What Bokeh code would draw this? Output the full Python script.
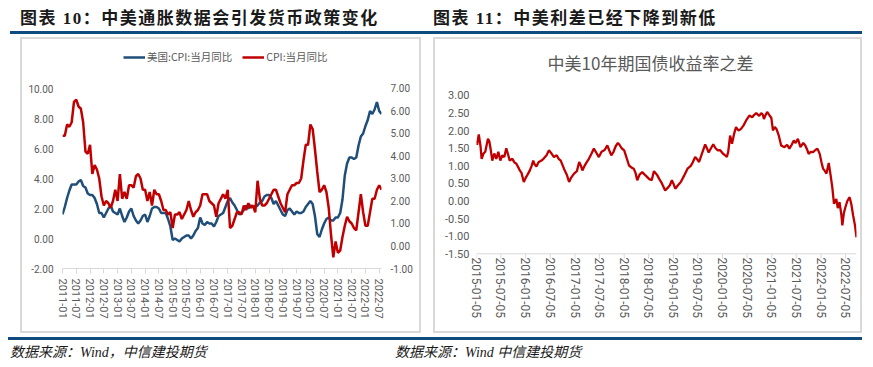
import pandas as pd
from bokeh.plotting import figure
from bokeh.models import (Range1d, LinearAxis, FixedTicker, NumeralTickFormatter,
                          DatetimeTickFormatter, Legend, LegendItem, Div, Spacer, Label)
from bokeh.layouts import column, row
from bokeh.embed import file_html
from bokeh.resources import INLINE

# ---------------- data: left chart (monthly, 2011-01 .. 2022-08) ----------------
start_year = 2011
us_cpi = [1.6, 2.1, 2.7, 3.2, 3.6, 3.6, 3.6, 3.8, 3.9, 3.5, 3.4, 3.0,
          2.9, 2.9, 2.7, 2.3, 1.7, 1.7, 1.4, 1.7, 2.0, 2.2, 1.8, 1.7,
          1.6, 2.0, 1.5, 1.1, 1.4, 1.8, 2.0, 1.5, 1.2, 1.0, 1.2, 1.5,
          1.6, 1.1, 1.5, 2.0, 2.1, 2.1, 2.0, 1.7, 1.7, 1.7, 1.3, 0.8,
          -0.1, 0.0, -0.1, -0.2, 0.0, 0.1, 0.2, 0.2, 0.0, 0.2, 0.5, 0.7,
          1.4, 1.0, 0.9, 1.1, 1.0, 1.0, 0.8, 1.1, 1.5, 1.6, 1.7, 2.1,
          2.5, 2.7, 2.4, 2.2, 1.9, 1.6, 1.7, 1.9, 2.2, 2.0, 2.2, 2.1,
          2.1, 2.2, 2.4, 2.5, 2.8, 2.9, 2.9, 2.7, 2.3, 2.5, 2.2, 1.9,
          1.6, 1.5, 1.9, 2.0, 1.8, 1.6, 1.8, 1.7, 1.7, 1.8, 2.1, 2.3,
          2.5, 2.3, 1.5, 0.3, 0.1, 0.6, 1.0, 1.3, 1.4, 1.2, 1.2, 1.4,
          1.4, 1.7, 2.6, 4.2, 5.0, 5.4, 5.4, 5.3, 5.4, 6.2, 6.8, 7.0,
          7.5, 7.9, 8.5, 8.3, 8.6, 9.1, 8.5, 8.3]
cn_cpi = [4.9, 4.9, 5.4, 5.3, 5.5, 6.4, 6.5, 6.2, 6.1, 5.5, 4.2, 4.1,
          4.5, 3.2, 3.6, 3.4, 3.0, 2.2, 1.8, 2.0, 1.9, 1.7, 2.0, 2.5,
          2.0, 3.2, 2.1, 2.4, 2.1, 2.7, 2.7, 2.6, 3.1, 3.2, 3.0, 2.5,
          2.5, 2.0, 2.4, 1.8, 2.5, 2.3, 2.3, 2.0, 1.6, 1.6, 1.4, 1.5,
          0.8, 1.4, 1.4, 1.5, 1.2, 1.4, 1.6, 2.0, 1.6, 1.3, 1.5, 1.6,
          1.8, 2.3, 2.3, 2.3, 2.0, 1.9, 1.8, 1.3, 1.9, 2.1, 2.3, 2.1,
          2.5, 0.8, 0.9, 1.2, 1.5, 1.5, 1.4, 1.8, 1.6, 1.9, 1.7, 1.8,
          1.5, 2.9, 2.1, 1.8, 1.8, 1.9, 2.1, 2.3, 2.5, 2.5, 2.2, 1.9,
          1.7, 1.5, 2.3, 2.5, 2.7, 2.7, 2.8, 2.8, 3.0, 3.8, 4.5, 4.5,
          5.4, 5.2, 4.3, 3.3, 2.4, 2.5, 2.7, 2.4, 1.7, 0.5, -0.5, 0.2,
          -0.3, -0.2, 0.4, 0.9, 1.3, 1.1, 1.0, 0.8, 0.7, 1.5, 2.3, 1.5,
          0.9, 0.9, 1.5, 2.1, 2.1, 2.5, 2.7, 2.5]
months = [f"{start_year + i // 12}-{i % 12 + 1:02d}" for i in range(len(us_cpi))]
left_ticks_y = [-2, 0, 2, 4, 6, 8, 10]
right_ticks_y = [-1, 0, 1, 2, 3, 4, 5, 6, 7]

# ---------------- data: right chart (China - US 10Y yield spread) ----------------
spread_dates = [
    "2015-01-05", "2015-01-09", "2015-01-22", "2015-02-04", "2015-02-12", "2015-02-26", "2015-03-11",
    "2015-03-31", "2015-04-10", "2015-04-21", "2015-05-02", "2015-05-17", "2015-06-01", "2015-06-16",
    "2015-07-01", "2015-07-15", "2015-07-30", "2015-08-14", "2015-08-29", "2015-09-08", "2015-09-28",
    "2015-10-13", "2015-10-28", "2015-11-12", "2015-11-22", "2015-12-05", "2015-12-22",
    "2016-01-04", "2016-01-19", "2016-02-05", "2016-02-18", "2016-03-01", "2016-03-10", "2016-03-25",
    "2016-04-09", "2016-05-01", "2016-05-16", "2016-06-08", "2016-06-25", "2016-07-15", "2016-08-02",
    "2016-08-22", "2016-09-06", "2016-09-21", "2016-10-15", "2016-11-05", "2016-11-22", "2016-12-05",
    "2016-12-29",
    "2017-01-19", "2017-02-05", "2017-02-18", "2017-03-01", "2017-03-17", "2017-04-01", "2017-04-18",
    "2017-05-08", "2017-05-25", "2017-06-08", "2017-07-01", "2017-07-21", "2017-08-13", "2017-09-02",
    "2017-09-15", "2017-10-01", "2017-10-18", "2017-11-02", "2017-11-19", "2017-12-01", "2017-12-17",
    "2018-01-05", "2018-01-17", "2018-02-10", "2018-03-01", "2018-03-17", "2018-03-30", "2018-04-12",
    "2018-04-29", "2018-05-19", "2018-06-06", "2018-06-20", "2018-07-08", "2018-07-28", "2018-08-14",
    "2018-09-05", "2018-09-22", "2018-10-12", "2018-11-05", "2018-11-25", "2018-12-10", "2018-12-25",
    "2019-01-05", "2019-01-19", "2019-02-08", "2019-03-01", "2019-03-23", "2019-04-20", "2019-05-14",
    "2019-05-29", "2019-06-16", "2019-06-28", "2019-07-15", "2019-08-05", "2019-08-29", "2019-09-11",
    "2019-09-24", "2019-10-11", "2019-10-28", "2019-11-14", "2019-12-01", "2019-12-17",
    "2020-01-07", "2020-01-24", "2020-02-06", "2020-02-16", "2020-03-01", "2020-03-15", "2020-03-30",
    "2020-04-14", "2020-05-03", "2020-05-21", "2020-06-09", "2020-06-28", "2020-07-22", "2020-08-12",
    "2020-08-27", "2020-09-11", "2020-10-03", "2020-10-18", "2020-10-30", "2020-11-07", "2020-11-20",
    "2020-12-01", "2020-12-16",
    "2021-01-01", "2021-01-13", "2021-01-27", "2021-02-08", "2021-02-26", "2021-03-15", "2021-04-08",
    "2021-04-28", "2021-05-15", "2021-06-01", "2021-06-17", "2021-06-30", "2021-07-17", "2021-08-05",
    "2021-08-26", "2021-09-10", "2021-09-25", "2021-10-05", "2021-10-21", "2021-11-07", "2021-11-24",
    "2021-12-09", "2021-12-26",
    "2022-01-08", "2022-01-20", "2022-02-03", "2022-02-14", "2022-03-03", "2022-03-17", "2022-03-29",
    "2022-04-11", "2022-04-28", "2022-05-09", "2022-05-22", "2022-06-05", "2022-06-12", "2022-06-23",
    "2022-07-05", "2022-07-19", "2022-08-05", "2022-08-18", "2022-08-31", "2022-09-14", "2022-09-25"]
spread_values = [
    1.72, 1.60, 1.89, 1.55, 1.20, 1.35, 1.40, 1.77, 1.70, 1.45, 1.15, 1.35, 1.20, 1.40,
    1.15, 1.30, 1.25, 1.50, 1.30, 1.15, 1.20, 1.10, 1.06, 0.95, 0.87, 0.80, 0.54,
    0.65, 0.75, 0.87, 1.00, 1.15, 1.05, 0.98, 1.10, 1.15, 1.20, 1.30, 1.44, 1.35, 1.25,
    1.30, 1.20, 1.15, 0.92, 0.75, 0.54, 0.65, 0.78,
    0.85, 1.11, 1.00, 0.87, 1.00, 1.10, 1.20, 1.35, 1.49, 1.40, 1.25, 1.40, 1.45, 1.58,
    1.45, 1.30, 1.40, 1.55, 1.65, 1.60, 1.50,
    1.44, 1.30, 1.01, 0.95, 0.92, 0.80, 0.59, 0.75, 0.82, 0.75, 0.70, 0.63, 0.59, 0.85,
    0.75, 0.63, 0.50, 0.30, 0.38, 0.45, 0.59,
    0.50, 0.35, 0.45, 0.54, 0.70, 0.92, 1.00, 1.10, 1.25, 1.20, 1.11, 1.35, 1.61, 1.50,
    1.38, 1.50, 1.61, 1.50, 1.44, 1.45,
    1.35, 1.30, 1.25, 1.40, 1.86, 1.63, 1.90, 2.10, 2.00, 2.05, 2.15, 2.29, 2.43, 2.38,
    2.45, 2.50, 2.42, 2.50, 2.45, 2.33, 2.45, 2.53, 2.45,
    2.36, 2.01, 2.10, 2.05, 1.85, 1.58, 1.53, 1.60, 1.49, 1.60, 1.72, 1.65, 1.77, 1.53,
    1.65, 1.58, 1.45, 1.34, 1.40, 1.39, 1.45, 1.49, 1.34,
    1.10, 0.92, 0.85, 0.78, 1.08, 0.73, 0.40, -0.08, 0.06, -0.20, -0.03, -0.40, -0.69, -0.35,
    -0.17, 0.00, 0.11, -0.10, -0.41, -0.70, -1.03]
spread_ticks_x = ["2015-01-05", "2015-07-05", "2016-01-05", "2016-07-05", "2017-01-05", "2017-07-05",
                  "2018-01-05", "2018-07-05", "2019-01-05", "2019-07-05", "2020-01-05", "2020-07-05",
                  "2021-01-05", "2021-07-05", "2022-01-05", "2022-07-05"]
spread_ticks_y = [-1.5, -1.0, -0.5, 0.0, 0.5, 1.0, 1.5, 2.0, 2.5, 3.0]
spread_axis_min = -1.5

# ---------------- styling ----------------
BLUE = "#1F4E79"
RED = "#C00000"
GRAY_TXT = "#595959"
AXIS_GRAY = "#D9D9D9"
BAR = "#0F4C7D"


def style_value_axis(ax, standoff, size):
    ax.axis_line_color = None
    ax.major_tick_line_color = None
    ax.minor_tick_line_color = None
    ax.major_tick_out = 0
    ax.major_tick_in = 0
    ax.major_label_text_font = "Roboto"
    ax.major_label_text_font_size = size
    ax.major_label_text_color = GRAY_TXT
    ax.major_label_standoff = standoff


def style_cat_axis(ax, size, standoff):
    ax.major_label_orientation = "vertical"
    ax.axis_line_color = AXIS_GRAY
    ax.major_tick_line_color = AXIS_GRAY
    ax.minor_tick_line_color = None
    ax.major_tick_out = 5
    ax.major_tick_in = 0
    ax.major_label_standoff = standoff
    ax.major_label_text_font = "Roboto"
    ax.major_label_text_font_size = size
    ax.major_label_text_color = GRAY_TXT


# ---------------- left chart ----------------
xs = list(range(len(us_cpi)))
p1 = figure(width=397, height=292, x_range=Range1d(0, len(us_cpi) - 1),
            y_range=Range1d(-2, 12.867),
            output_backend="svg", toolbar_location=None,
            min_border_left=40, min_border_right=38, min_border_top=6, min_border_bottom=63,
            background_fill_color="white", border_fill_color="white", outline_line_color=None)
p1.xgrid.visible = False
p1.ygrid.visible = False
p1.extra_y_ranges = {"r": Range1d(-1, 8.911)}

p1.yaxis.ticker = FixedTicker(ticks=left_ticks_y)
p1.yaxis.formatter = NumeralTickFormatter(format="0.00")
ax_r = LinearAxis(y_range_name="r", ticker=FixedTicker(ticks=right_ticks_y),
                  formatter=NumeralTickFormatter(format="0.00"))
p1.add_layout(ax_r, "right")
style_value_axis(p1.yaxis[0], 9, "10px")
style_value_axis(ax_r, 9, "10px")

xa = p1.xaxis[0]
xa.ticker = FixedTicker(ticks=list(range(0, len(us_cpi), 6)))
xa.major_label_overrides = {i: months[i] for i in range(0, len(us_cpi), 6)}
style_cat_axis(xa, "11px", 5)

r_us = p1.line(xs, us_cpi, line_color=BLUE, line_width=2.5)
r_cn = p1.line(xs, cn_cpi, line_color=RED, line_width=2.5, y_range_name="r")

legend = Legend(items=[LegendItem(label="美国:CPI:当月同比", renderers=[r_us]),
                       LegendItem(label="CPI:当月同比", renderers=[r_cn])],
                orientation="horizontal", location=(61, 204),
                label_text_font="Noto Sans CJK SC", label_text_font_size="10.5px",
                label_text_color=GRAY_TXT, glyph_width=22, glyph_height=12, label_height=12,
                label_standoff=2, spacing=10, padding=0, margin=0,
                border_line_color=None, background_fill_alpha=0)
p1.add_layout(legend)

# ---------------- right chart ----------------
sd = pd.to_datetime(spread_dates)
tick_dates = pd.to_datetime(spread_ticks_x)
p2 = figure(width=425, height=292, x_axis_type="datetime",
            x_range=Range1d(sd[0], sd[-1]), y_range=Range1d(-1.918, 4.421),
            output_backend="svg", toolbar_location=None,
            min_border_left=41, min_border_right=4, min_border_top=6, min_border_bottom=63,
            background_fill_color="white", border_fill_color="white", outline_line_color=None)
p2.xgrid.visible = False
p2.ygrid.visible = False

ya = p2.yaxis[0]
ya.ticker = FixedTicker(ticks=spread_ticks_y)
ya.formatter = NumeralTickFormatter(format="0.00")
style_value_axis(ya, 7, "11px")

# date axis: line and tick marks sit at the -1.50 level, labels hang below them
xb = p2.xaxis[0]
xb.ticker = FixedTicker(ticks=[t.value / 1e6 for t in tick_dates])
fmt = "%Y-%m-%d"
xb.formatter = DatetimeTickFormatter(milliseconds=fmt, seconds=fmt, minsec=fmt, minutes=fmt,
                                     hourmin=fmt, hours=fmt, days=fmt, months=fmt, years=fmt)
style_cat_axis(xb, "12px", -11)
xb.axis_line_color = None
xb.major_tick_line_color = None
xb.major_tick_out = 0
tick_len = 5 / 35.18  # 5 px in data units of this frame
p2.segment(x0=[sd[0]], y0=[spread_axis_min], x1=[sd[-1]], y1=[spread_axis_min],
           line_color=AXIS_GRAY, line_width=1)
p2.segment(x0=tick_dates, y0=[spread_axis_min] * len(tick_dates),
           x1=tick_dates, y1=[spread_axis_min - tick_len] * len(tick_dates),
           line_color=AXIS_GRAY, line_width=1)

p2.line(sd, spread_values, line_color=RED, line_width=2.3)
p2.add_layout(Label(x=174, y=206, x_units="screen", y_units="screen",
                    text="中美10年期国债收益率之差", text_align="center", text_baseline="middle",
                    text_font="Noto Sans CJK SC", text_font_size="17px", text_color=GRAY_TXT))


# ---------------- panels with light grey frame ----------------
def boxed(fig, w, h):
    def g(ww, hh):
        return Spacer(width=ww, height=hh, margin=0, styles={"background": AXIS_GRAY})
    return column(g(w, 2), row(g(2, h - 4), fig, g(2, h - 4), spacing=0), g(w, 2), spacing=0)


# ---------------- header / footer ----------------
title_css = ("position:absolute;top:9px;line-height:20px;font-family:'Liberation Serif','Noto Sans CJK SC';"
             "font-weight:bold;font-size:17px;letter-spacing:1.5px;color:#1a1a1a;white-space:nowrap;")
header = Div(width=870, height=37, margin=0, text=(
    '<div style="position:relative;width:870px;height:37px;">'
    f'<div style="{title_css}left:20px;">图表 10：中美通胀数据会引发货币政策变化</div>'
    f'<div style="{title_css}left:433px;">图表 11：中美利差已经下降到新低</div>'
    f'<div style="position:absolute;left:10px;top:31px;width:852px;height:3px;background:{BAR};"></div>'
    '</div>'))

src_css = ("position:absolute;top:11px;line-height:18px;font-family:'Liberation Serif','Noto Sans CJK SC';"
           "font-style:italic;font-size:14px;color:#1a1a1a;white-space:nowrap;")
footer = Div(width=870, height=30, margin=0, text=(
    '<div style="position:relative;width:870px;height:30px;">'
    f'<div style="position:absolute;left:8px;top:4px;width:854px;height:3px;background:{BAR};"></div>'
    f'<div style="{src_css}left:10px;">数据来源：Wind，中信建投期货</div>'
    f'<div style="{src_css}left:395px;">数据来源：Wind 中信建投期货</div>'
    '</div>'))

charts = row(Spacer(width=20, height=296, margin=0), boxed(p1, 401, 296),
             Spacer(width=12, height=296, margin=0), boxed(p2, 429, 296), spacing=0)
layout = column(header, charts, footer, spacing=0)

open("out.html", "w").write(file_html(layout, INLINE))
